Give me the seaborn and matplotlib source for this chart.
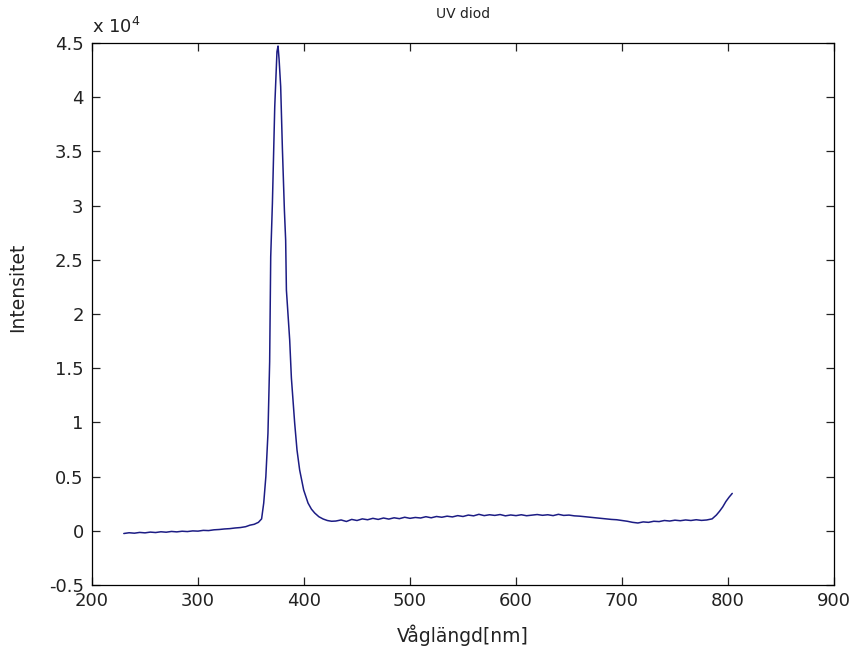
import matplotlib
matplotlib.use("Agg")
import matplotlib.pyplot as plt
import seaborn as sns
import pandas as pd
from matplotlib.ticker import FuncFormatter

# --- Datos (espectro de un diodo UV) ---
vaglangd = [
    230, 235, 240, 245, 250, 255, 260, 265, 270, 275, 280, 285, 290, 295, 300,
    305, 310, 315, 320, 325, 330, 335, 340, 345, 349, 353, 357, 360, 362, 364,
    366, 367.6, 368.6, 370.2, 372.4, 374.5, 375.5, 376.5, 378.0, 379.6, 381.5,
    382.7, 383.4, 386.5, 388.1, 391.2, 393.4, 395.9, 399.7, 403.8, 407, 410.1,
    414, 418, 422, 426, 430, 435, 440, 445, 450, 455, 460, 465, 470, 475, 480,
    485, 490, 495, 500, 505, 510, 515, 520, 525, 530, 535, 540, 545, 550, 555,
    560, 565, 570, 575, 580, 585, 590, 595, 600, 605, 610, 615, 620, 625, 630,
    635, 640, 645, 650, 655, 660, 665, 670, 675, 680, 685, 690, 695, 700, 705,
    710, 715, 720, 725, 730, 735, 740, 745, 750, 755, 760, 765, 770, 775, 780,
    785, 789, 792, 795, 798, 801, 804,
]
intensitet = [
    -250, -180, -220, -150, -190, -120, -160, -90, -130, -60, -100, -40, -70, -10, -30,
    40, 20, 90, 120, 170, 200, 260, 300, 380, 520, 600, 780, 1100, 2560, 4990,
    9000, 15600, 25290, 30240, 39120, 44200, 44720, 43500, 40970, 35310, 29590,
    26800, 22210, 17600, 14100, 9940, 7450, 5610, 3760, 2560, 2000, 1640,
    1300, 1090, 950, 880, 900, 1000, 860, 1050, 950, 1100, 1020, 1150, 1050, 1180, 1080,
    1200, 1120, 1250, 1150, 1230, 1180, 1300, 1200, 1320, 1250, 1350, 1280, 1400, 1320, 1450,
    1380, 1520, 1400, 1480, 1420, 1500, 1380, 1460, 1400, 1480, 1390, 1450, 1500, 1430, 1480,
    1400, 1520, 1420, 1450, 1380, 1350, 1300, 1250, 1200, 1150, 1100, 1050, 1020, 950, 880,
    780, 720, 820, 780, 880, 850, 950, 900, 980, 930, 1000, 950, 1020, 960, 1000,
    1100, 1450, 1800, 2200, 2700, 3100, 3450,
]

y_ticks = [-5000, 0, 5000, 10000, 15000, 20000, 25000, 30000, 35000, 40000, 45000]
x_ticks = [200, 300, 400, 500, 600, 700, 800, 900]

df = pd.DataFrame({"vaglangd": vaglangd, "intensitet": intensitet})

# --- Estilo ---
sns.set_style("ticks")
plt.rcParams["font.family"] = ["DejaVu Sans"]

fig = plt.figure(figsize=(8.54, 6.46), dpi=100)
ax = fig.add_axes([92 / 854, 61 / 646, 742 / 854, 542 / 646])

sns.lineplot(data=df, x="vaglangd", y="intensitet", ax=ax, color="#1c1c84",
             linewidth=1.1, sort=False, estimator=None)

ax.set_xlim(200, 900)
ax.set_ylim(-5000, 45000)
ax.set_xticks(x_ticks)
ax.set_yticks(y_ticks)
ax.yaxis.set_major_formatter(FuncFormatter(lambda v, p: f"{v / 1e4:g}"))

# Ejes tipo MATLAB: caja completa y marcas hacia dentro
for lado in ["top", "right", "bottom", "left"]:
    ax.spines[lado].set_visible(True)
    ax.spines[lado].set_color("black")
    ax.spines[lado].set_linewidth(0.9)
ax.tick_params(direction="in", length=6, width=0.9, top=True, right=True,
               labelsize=13, colors="#222222")
ax.tick_params(axis="y", pad=6)
ax.tick_params(axis="x", pad=5)

ax.set_xlabel("Våglängd[nm]", fontsize=13.5, color="#222222")
ax.set_ylabel("Intensitet", fontsize=13.5, color="#222222")
ax.xaxis.set_label_coords(0.5, -0.072)
ax.yaxis.set_label_coords(-0.088, 0.55)

fig.text((92 + 371) / 854, 1 - 14 / 646, "UV diod", fontsize=10,
         ha="center", va="center", color="#222222")
ax.text(0.0, 1.018, "x 10$^{4}$", transform=ax.transAxes, fontsize=13,
        ha="left", va="baseline", color="#222222")

fig.savefig("out.png", dpi=100)
